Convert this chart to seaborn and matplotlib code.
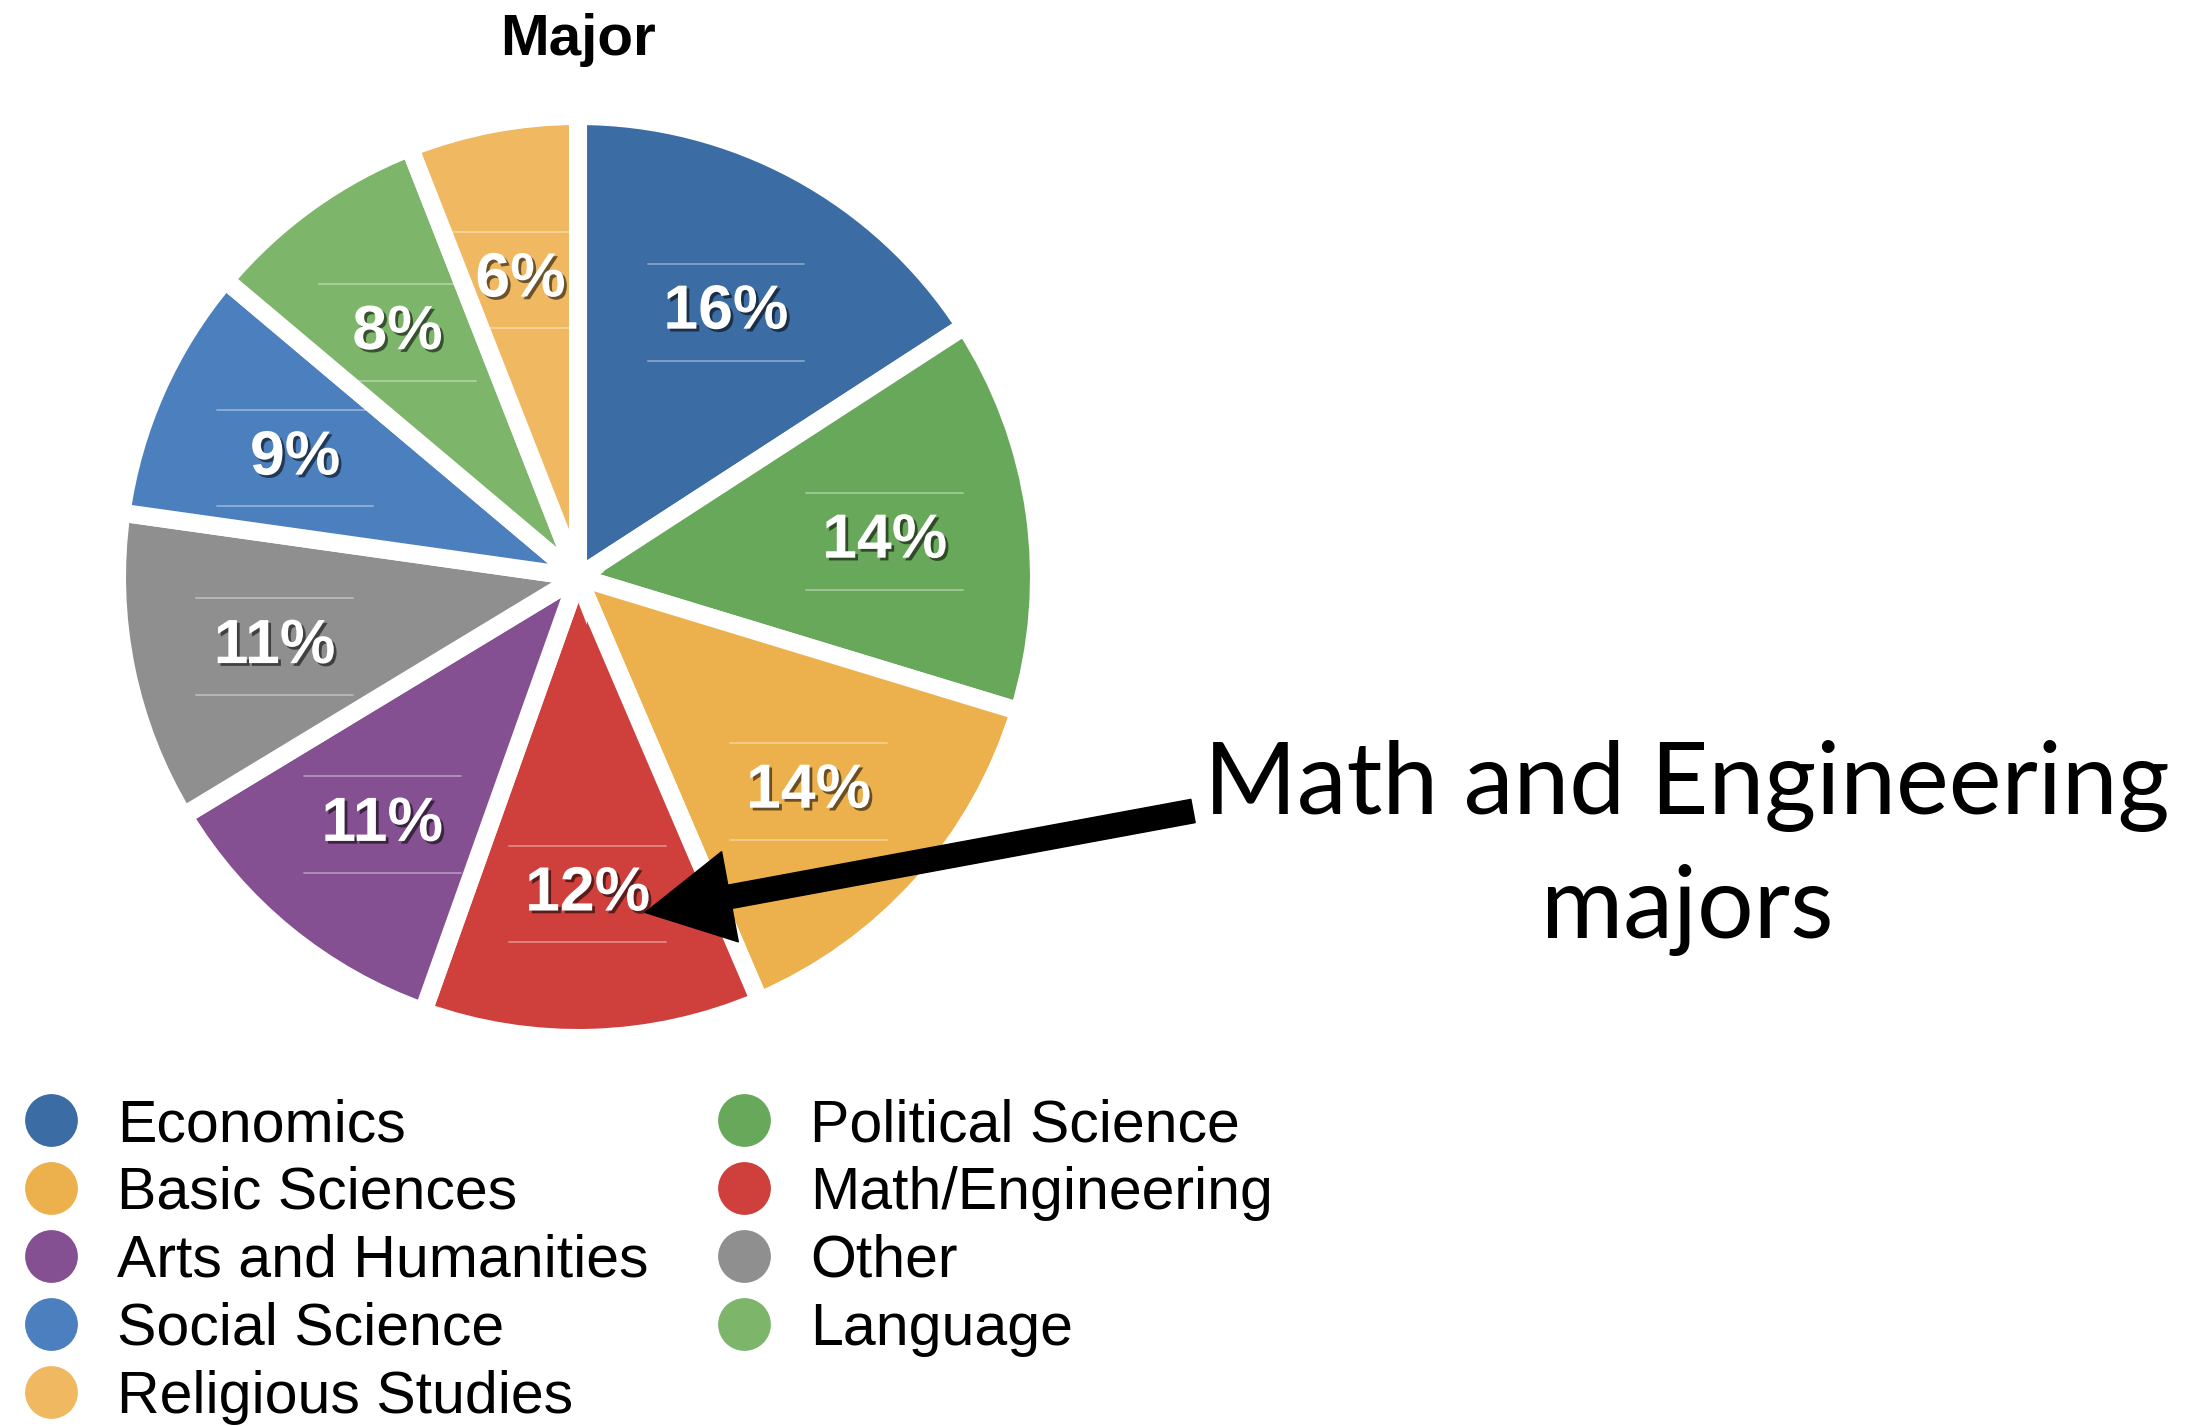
import matplotlib
matplotlib.use("Agg")
import matplotlib.pyplot as plt
import matplotlib.patheffects as pe
from matplotlib.lines import Line2D
import seaborn as sns

# Data, clockwise from 12 o'clock
majors = ["Economics", "Political Science", "Basic Sciences", "Math/Engineering",
          "Arts and Humanities", "Other", "Social Science", "Language", "Religious Studies"]
shares = [16, 14, 14, 12, 11, 11, 9, 8, 6]
colors = ["#3b6ca3", "#68a85a", "#ecb04c", "#cf3f3b", "#845092",
          "#8f8f8f", "#4b7fbd", "#7db56b", "#f0b860"]
title = "Major"
callout = "Math and Engineering\nmajors"
callout_target = "Math/Engineering"

sns.set_style("white")
plt.rcParams["font.family"] = ["Liberation Sans", "DejaVu Sans"]
plt.rcParams["text.color"] = "black"

palette = sns.color_palette(colors)
total = sum(shares)

fig = plt.figure(figsize=(22.05, 14.26), dpi=100)
W, H = 2205, 1426
R = 461  # pie radius in px
cx, cy = 578, 577
ax = fig.add_axes([(cx - R) / W, (H - cy - R) / H, 2 * R / W, 2 * R / H])

wedges, _, autotexts = ax.pie(
    shares,
    colors=palette,
    startangle=90,
    counterclock=False,
    radius=1.0,
    pctdistance=0.672,
    autopct=lambda p: f"{round(p * total / 100)}%",
    wedgeprops=dict(edgecolor="white", linewidth=13),
    textprops=dict(color="white", fontsize=45, fontweight="bold"),
)
ax.set_xlim(-1, 1)
ax.set_ylim(-1, 1)
ax.set_aspect("equal")
ax.axis("off")

# faint rules above / below each percentage, clipped to its slice
for w, t in zip(wedges, autotexts):
    x, y = t.get_position()
    y -= 0.016
    t.set_position((x, y))
    t.set_path_effects([pe.SimplePatchShadow(offset=(2, -2), shadow_rgbFace="black", alpha=0.55),
                        pe.Normal()])
    for dy in (0.105, -0.105):
        ln, = ax.plot([x - 0.17, x + 0.17], [y + dy, y + dy], color="white",
                      alpha=0.35, lw=1.4)
        ln.set_clip_path(w)

fig.text(cx / W, 1 - 40 / H, title, ha="center", va="center",
         fontsize=42, fontweight="bold")

# callout arrow to the Math/Engineering slice
tx, ty = autotexts[majors.index(callout_target)].get_position()
ax.annotate("", xy=(tx + 0.125, ty - 0.04), xycoords="data",
            xytext=(1193 / W, 1 - 811 / H), textcoords="figure fraction",
            arrowprops=dict(facecolor="black", edgecolor="black", width=17,
                            headwidth=66, headlength=62, shrink=0))
fig.text(1687 / W, 1 - 848 / H, callout, ha="center", va="center",
         multialignment="center", fontsize=72, family=["Lato", "DejaVu Sans"],
         linespacing=1.44)

# legend: two columns, filled column-first
order = list(range(0, len(majors), 2)) + list(range(1, len(majors), 2))
handles = [Line2D([], [], marker="o", linestyle="none", markersize=38,
                  markerfacecolor=palette[i], markeredgecolor="none") for i in order]
fig.legend(handles, [majors[i] for i in order], ncol=2, loc="upper left",
           bbox_to_anchor=(21 / W, 1 - 1098 / H), frameon=False, fontsize=42.5,
           handlelength=1.0, handletextpad=0.62, columnspacing=1.13,
           labelspacing=0.22, borderpad=0, borderaxespad=0)

fig.savefig("out.png", dpi=100, facecolor="white")
